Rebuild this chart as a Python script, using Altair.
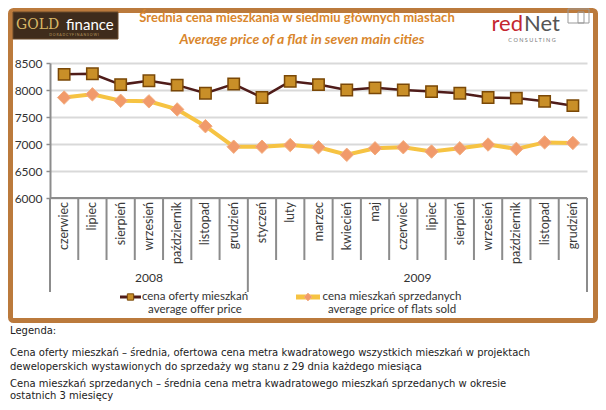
import altair as alt
import pandas as pd

# ---- data ----
months = ["czerwiec", "lipiec", "sierpień", "wrzesień", "październik", "listopad", "grudzień",
          "styczeń", "luty", "marzec", "kwiecień", "maj", "czerwiec", "lipiec", "sierpień",
          "wrzesień", "październik", "listopad", "grudzień"]
offer = [8290, 8300, 8100, 8170, 8090, 7940, 8110, 7860, 8160, 8100, 8000, 8040,
         8000, 7970, 7940, 7860, 7850, 7790, 7710]
sold = [7860, 7920, 7800, 7790, 7640, 7330, 6950, 6950, 6980, 6940, 6800, 6920,
        6940, 6860, 6920, 6990, 6910, 7030, 7020]
years = ["2008", "2009"]
year_counts = [7, 12]
y_ticks = [6000, 6500, 7000, 7500, 8000, 8500]

title_pl = "Średnia cena mieszkania w siedmiu głównych miastach"
title_en = "Average price of a flat in seven main cities"
legend_offer = ["cena oferty mieszkań", "average offer price"]
legend_sold = ["cena mieszkań sprzedanych", "average price of flats sold"]
notes = [
    "Legenda:",
    "Cena oferty mieszkań – średnia, ofertowa cena metra kwadratowego wszystkich mieszkań w projektach",
    "deweloperskich wystawionych do sprzedaży wg stanu z 29 dnia każdego miesiąca",
    "Cena mieszkań sprzedanych – średnia cena metra kwadratowego mieszkań sprzedanych w okresie",
    "ostatnich 3 miesięcy",
]

# ---- tables ----
n = len(months)
df = pd.DataFrame({"pos": [i + 0.5 for i in range(n)], "month": months,
                   "offer": offer, "sold": sold})
bounds = list(range(n + 1))
year_edges = [0]
for c in year_counts:
    year_edges.append(year_edges[-1] + c)
df_short = pd.DataFrame({"b": [b for b in bounds if b not in year_edges]})
df_long = pd.DataFrame({"b": year_edges})
df_years = pd.DataFrame({"year": years,
                         "pos": [(year_edges[i] + year_edges[i + 1]) / 2 for i in range(len(years))]})
one = pd.DataFrame({"a": [0]})

W, H = 537, 135
xs = alt.Scale(domain=[0, n], nice=False, zero=False)
ys = alt.Scale(domain=[6000, 8500], nice=False, zero=False)
yaxis = alt.Axis(values=y_ticks, grid=True, gridColor="#d9d9d9", gridWidth=2,
                 domainColor="#8c8c8c", domainWidth=2, tickColor="#8c8c8c",
                 tickSize=4, tickWidth=1.5, labelFont="Lato", labelFontSize=12,
                 labelColor="#333333", labelPadding=4, title=None, format="d")

ORANGE = "#d9862c"
FRAME = "#bb7a3c"
FONT = "Lato"


def txt(text, x, y, **kw):
    return alt.Chart(one).mark_text(text=text, **kw).encode(x=alt.value(x), y=alt.value(y))


layers = []

# frame
layers.append(alt.Chart(one).mark_rect(filled=False, stroke=FRAME, strokeWidth=5, cornerRadius=3).encode(
    x=alt.value(-39.5), x2=alt.value(545.5), y=alt.value(-52.5), y2=alt.value(257.5)))

# Gold finance logo
layers.append(alt.Chart(one).mark_rect(fill="#3f2c1c", stroke="#6b4a2a", strokeWidth=1).encode(
    x=alt.value(-37), x2=alt.value(68), y=alt.value(-51), y2=alt.value(-24)))
layers.append(txt("GOLD", -34, -38, font="DejaVu Serif", fontSize=14, color="#d9b866", align="left"))
layers.append(txt("finance", 16, -38, font=FONT, fontSize=15, color="#ffffff", align="left"))
layers.append(txt("D O R A D C Y   F I N A N S O W I", 24, -28, font=FONT, fontSize=3.5,
                  color="#b99a5e", align="center", baseline="middle"))

# redNet logo
layers.append(txt("red", 473, -39, font=FONT, fontSize=22, color="#c4262e", align="right"))
layers.append(txt("Net", 474, -39, font=FONT, fontSize=22, color="#555555", align="left"))
layers.append(alt.Chart(one).mark_rect(filled=False, stroke="#999999", strokeWidth=1).encode(
    x=alt.value(518), x2=alt.value(539), y=alt.value(-54), y2=alt.value(-40)))
layers.append(alt.Chart(one).mark_rect(filled=False, stroke="#999999", strokeWidth=1).encode(
    x=alt.value(528), x2=alt.value(534), y=alt.value(-51), y2=alt.value(-40)))
layers.append(txt("C O N S U L T I N G", 482, -23, font=FONT, fontSize=5.5, color="#777777",
                  align="center", baseline="middle"))

# titles
layers.append(txt(title_pl, 247, -45, font=FONT, fontSize=13, fontWeight="bold", color=ORANGE, align="center"))
layers.append(txt(title_en, 252, -23, font=FONT, fontSize=14, fontWeight="bold", fontStyle="italic",
                  color=ORANGE, align="center"))

# lines & markers
layers.append(alt.Chart(df).mark_line(color="#4f1c19", strokeWidth=2.5).encode(
    x=alt.X("pos:Q", scale=xs, axis=None), y=alt.Y("offer:Q", scale=ys, axis=yaxis)))
layers.append(alt.Chart(df).mark_line(color="#f6c342", strokeWidth=4).encode(
    x=alt.X("pos:Q", scale=xs, axis=None), y=alt.Y("sold:Q", scale=ys, axis=yaxis)))
layers.append(alt.Chart(df).mark_point(shape="square", filled=True, size=130, fill="#c98f28",
                                       stroke="#7a4807", strokeWidth=1.5, opacity=1).encode(
    x=alt.X("pos:Q", scale=xs, axis=None), y=alt.Y("offer:Q", scale=ys, axis=yaxis)))
layers.append(alt.Chart(df).mark_point(shape="diamond", filled=True, size=180, fill="#f19a6b",
                                       stroke="#f3ad80", strokeWidth=1, opacity=1).encode(
    x=alt.X("pos:Q", scale=xs, axis=None), y=alt.Y("sold:Q", scale=ys, axis=yaxis)))

# x axis base line and category separators
layers.append(alt.Chart(one).mark_rule(color="#8c8c8c", strokeWidth=2).encode(
    x=alt.value(0), x2=alt.value(W), y=alt.value(H)))
layers.append(alt.Chart(df_short).mark_rule(color="#8c8c8c", strokeWidth=2).encode(
    x=alt.X("b:Q", scale=xs, axis=None), y=alt.value(H), y2=alt.value(197)))
layers.append(alt.Chart(df_long).mark_rule(color="#8c8c8c", strokeWidth=2).encode(
    x=alt.X("b:Q", scale=xs, axis=None), y=alt.value(H), y2=alt.value(229)))

# category labels
layers.append(alt.Chart(df).mark_text(angle=270, align="right", baseline="middle", font=FONT,
                                      fontSize=12.5, color="#3a3a3a").encode(
    x=alt.X("pos:Q", scale=xs, axis=None), y=alt.value(H + 4), text="month:N"))
layers.append(alt.Chart(df_years).mark_text(baseline="middle", font=FONT, fontSize=12,
                                            color="#333333").encode(
    x=alt.X("pos:Q", scale=xs, axis=None), y=alt.value(215), text="year:N"))

# legend
layers.append(alt.Chart(one).mark_rule(color="#4f1c19", strokeWidth=3).encode(
    x=alt.value(70), x2=alt.value(91), y=alt.value(234)))
layers.append(alt.Chart(one).mark_point(shape="square", filled=True, size=40, fill="#c98f28",
                                        stroke="#7a4807", strokeWidth=1, opacity=1).encode(
    x=alt.value(80.5), y=alt.value(234)))
layers.append(txt(legend_offer[0], 145, 234, font=FONT, fontSize=11.5, color="#333333",
                  align="center", baseline="middle"))
layers.append(txt(legend_offer[1], 145, 247, font=FONT, fontSize=11.5, color="#333333",
                  align="center", baseline="middle"))
layers.append(alt.Chart(one).mark_rule(color="#f6c342", strokeWidth=5).encode(
    x=alt.value(246), x2=alt.value(270), y=alt.value(234)))
layers.append(alt.Chart(one).mark_point(shape="diamond", filled=True, size=60, fill="#f19a6b",
                                        stroke="#f3ad80", strokeWidth=1, opacity=1).encode(
    x=alt.value(258), y=alt.value(234)))
layers.append(txt(legend_sold[0], 342, 234, font=FONT, fontSize=11.5, color="#333333",
                  align="center", baseline="middle"))
layers.append(txt(legend_sold[1], 342, 247, font=FONT, fontSize=11.5, color="#333333",
                  align="center", baseline="middle"))

# notes below the frame
note_y = [271, 293, 307, 324, 336]
for t, yy in zip(notes, note_y):
    layers.append(txt(t, -40, yy, font="DejaVu Sans", fontSize=10, color="#222222",
                      align="left", baseline="alphabetic"))

chart = alt.layer(*layers).properties(
    width=W, height=H,
    padding={"left": 42, "top": 55, "right": 11, "bottom": 204},
    autosize=alt.AutoSizeParams(type="none"),
    background="white",
).configure_view(stroke=None)

chart.save("out.html", embed_options={"renderer": "svg", "actions": False})
